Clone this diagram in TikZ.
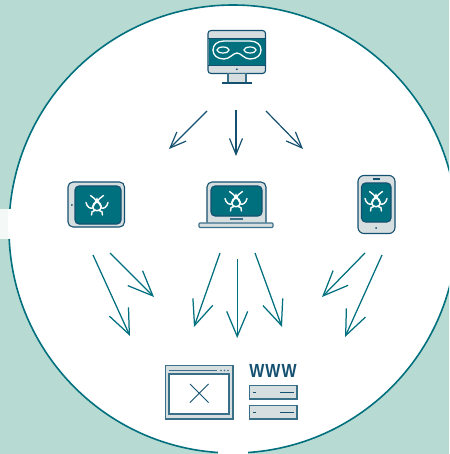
\documentclass[tikz,border=0pt]{standalone}
\usepackage{fontspec}
\setmainfont{Liberation Sans}
\newfontfamily\wwwfont[FakeStretch=0.84]{Liberation Sans}
\usetikzlibrary{arrows.meta}
\definecolor{bgteal}{HTML}{B7DAD2}
\definecolor{ringteal}{HTML}{00707F}
\definecolor{inkblue}{HTML}{14506F}
\definecolor{softink}{HTML}{3A6F8A}
\definecolor{devgray}{HTML}{D6DEDF}
\definecolor{gapwhite}{HTML}{F4F8F6}
\tikzset{
  ink/.style={draw=inkblue,line width=1.1pt},
  body/.style={ink,fill=devgray},
  scr/.style={ink,fill=ringteal},
  flow/.style={draw=inkblue,line width=1.2pt,-{Straight Barb[length=16pt,width=13pt,line width=1.2pt]}},
  flowb/.style={draw=ringteal,line width=1.25pt,-{Straight Barb[length=25pt,width=21pt,line width=1.25pt]}},
  glyph/.style={draw=white,line width=1.4pt,line cap=round},
  pt/.style={inner sep=0pt,minimum size=0pt},
}
\newcommand{\biosign}[2]{%
  \begin{scope}[shift={(#1,#2)}]
    \draw[glyph] (0,1.5) circle (4.3);
    \draw[glyph] (-6.5,-9.5) .. controls (-4,-8) and (-1.5,-5.5) .. (0.5,-3);
    \draw[glyph] (6.5,-9.5) .. controls (4,-8) and (1.5,-5.5) .. (-0.5,-3);
    \draw[glyph] (-3.5,1) -- (0,-6) -- (3.5,1);
    \draw[glyph] (-11,-2.5) .. controls (-10,2) and (-7,4) .. (-4,3);
    \draw[glyph] (11,-2.5) .. controls (10,2) and (7,4) .. (4,3);
    \draw[glyph] (-5.5,10) .. controls (-6,7) and (-4.5,5.5) .. (-2,5.5);
    \draw[glyph] (5.5,10) .. controls (6,7) and (4.5,5.5) .. (2,5.5);
  \end{scope}}
\begin{document}
\begin{tikzpicture}[x=1pt,y=-1pt]
\useasboundingbox (0,0) rectangle (449,454);
\clip (0,0) rectangle (449,454);
\fill[bgteal] (0,0) rectangle (449,454);
\filldraw[fill=white,draw=ringteal,line width=1.6pt] (233,229) circle (224);
\fill[gapwhite] (0,209) rectangle (8,239);
\fill[white] (8,209) rectangle (11,239);
\fill[white] (218,445) rectangle (248,454);
% monitor
\draw[body,rounded corners=3pt] (208,30.5) rectangle (265.5,73.5);
\fill[ringteal] (208.6,38) rectangle (264.9,65);
\draw[ink,line width=.8pt] (208,38) -- (265.5,38) (208,65) -- (265.5,65);
\fill[inkblue] (236.8,69.3) circle (1);
\draw[body,draw=softink] (228,73.5) rectangle (246,83);
\draw[ink] (222,83) -- (252,83);
\draw[draw=white,line width=1.3pt] (237,53) .. controls (241,53) and (244,59) .. (250,59) .. controls (257,59) and (261,55) .. (261,50) .. controls (261,45) and (257,41) .. (250,41) -- (224,41) .. controls (217,41) and (213,45) .. (213,50) .. controls (213,55) and (217,59) .. (224,59) .. controls (230,59) and (233,53) .. (237,53) -- cycle;
\draw[draw=white,line width=1.2pt] (223,50) ellipse (6 and 3);
\draw[draw=white,line width=1.2pt] (250,50) ellipse (6 and 3);
% tablet
\draw[body,rounded corners=5pt] (68,182) rectangle (124.5,227);
\draw[scr,rounded corners=4pt] (75,186) rectangle (121,224);
\fill[inkblue] (71.8,205) circle (1);
\biosign{97}{205}
% laptop
\draw[body,rounded corners=5pt] (207,222.5) -- (207,182) -- (266,182) -- (266,222.5);
\draw[scr,rounded corners=4pt] (211,186) rectangle (262,216);
\draw[softink,line width=1.5pt] (230,219) -- (243,219);
\draw[body,draw=softink,rounded corners=.8pt] (199,223) rectangle (273,227.5);
\biosign{236}{201}
% phone
\draw[body,rounded corners=6pt] (358,175.5) rectangle (395,233.5);
\draw[scr,rounded corners=4pt] (361.5,183) rectangle (391,222);
\draw[inkblue,line width=1.1pt] (373,179) -- (379.5,179);
\fill[inkblue] (376,228) circle (1);
\biosign{376}{201}
% browser
\draw[body,draw=softink] (165.5,365.5) rectangle (233,419);
\draw[draw=softink,line width=1.1pt,fill=white] (169,374) rectangle (229,414);
\draw[softink,line width=1pt] (169,370.5) -- (217,370.5);
\foreach \dx in {221,224.5,228}{\fill[softink] (\dx,370.5) circle (.8);}
\draw[inkblue,line width=1pt] (190,384) -- (208.5,402.5) (208.5,384) -- (190,402.5);
% www
\node[pt,text=inkblue,font=\wwwfont\bfseries\fontsize{19}{20}\selectfont,anchor=center] (www) at (273,371) {W\kern1pt W\kern1pt W};
\draw[body,draw=softink] (249.8,385.5) rectangle (297,399);
\draw[body,draw=softink] (249.8,405.5) rectangle (297,419);
\draw[inkblue,line width=1pt] (253,392.3) -- (256,392.3) (280,392.3) -- (293.5,392.3);
\draw[inkblue,line width=1pt] (253,412.3) -- (256,412.3) (280,412.3) -- (293.5,412.3);
% connector ends
\coordinate (t1s) at (207,111); \coordinate (t1e) at (169,149);
\coordinate (t2s) at (236,110); \coordinate (t2e) at (236,156);
\coordinate (t3s) at (266,111); \coordinate (t3e) at (303,149);
\coordinate (b1s) at (93,255);  \coordinate (b1e) at (130,336);
\coordinate (b2s) at (110,253); \coordinate (b2e) at (154,297);
\coordinate (b3s) at (220,253); \coordinate (b3e) at (194,327);
\coordinate (b4s) at (237.2,259); \coordinate (b4e) at (237.2,338);
\coordinate (b5s) at (255,253); \coordinate (b5e) at (282,327);
\coordinate (b6s) at (365,253); \coordinate (b6e) at (322,297);
\coordinate (b7s) at (382,255); \coordinate (b7e) at (345,337);
\foreach \n in {t1,t2,t3}{\draw[flow] (\n s) -- (\n e);}
\foreach \n in {b1,b2,b3,b4,b5,b6,b7}{\draw[flowb] (\n s) -- (\n e);}
\end{tikzpicture}
\end{document}
